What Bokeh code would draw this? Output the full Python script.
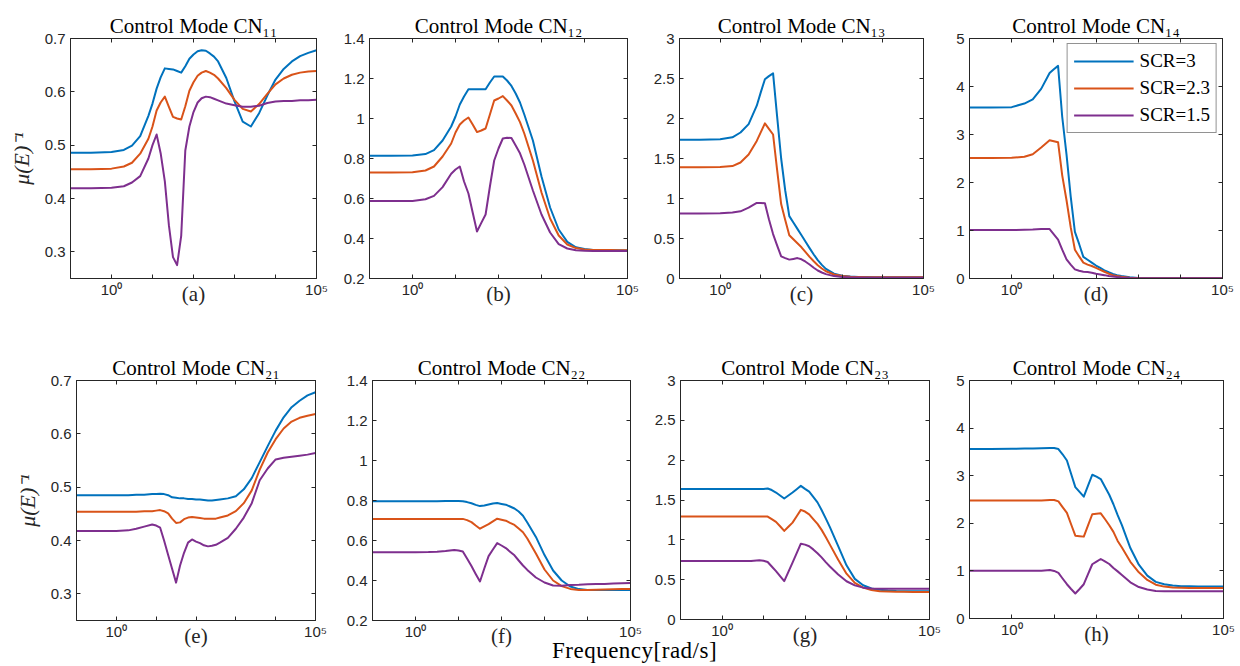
from bokeh.plotting import figure
from bokeh.models import (FixedTicker, LogAxis, LinearAxis, Legend, LegendItem, Div,
                          NumeralTickFormatter, CustomJSTickFormatter)
from bokeh.layouts import row, column
from bokeh.embed import file_html
from bokeh.resources import INLINE

# ---------------- data ----------------
freq = [0.1, 0.316, 1, 2.0, 3.16, 5.01, 7.94,
        10, 12.6, 15.8, 20.0, 25.1, 31.6, 39.8, 50.1, 63.1, 79.4, 100, 126, 158, 200, 251, 316, 398,
        631, 1000, 1585, 2512, 3981, 6310, 10000, 15850, 25120, 39810, 63100, 100000]

series_names = ["SCR=3", "SCR=2.3", "SCR=1.5"]
series_colors = ["#0072BD", "#D95319", "#7E2F8E"]

cn11_scr3 = [0.486, 0.486, 0.487, 0.491, 0.499, 0.517, 0.555,
             0.578, 0.606, 0.627, 0.644, 0.643, 0.642, 0.639, 0.636, 0.648, 0.662, 0.670, 0.676, 0.678, 0.677, 0.672, 0.666, 0.657,
             0.626, 0.582, 0.544, 0.535, 0.560, 0.593, 0.623, 0.643, 0.657, 0.667, 0.673, 0.678]
cn11_scr23 = [0.455, 0.455, 0.456, 0.460, 0.467, 0.484, 0.512,
              0.535, 0.565, 0.580, 0.591, 0.572, 0.553, 0.550, 0.548, 0.573, 0.602, 0.618, 0.630, 0.636, 0.639, 0.636, 0.632, 0.625,
              0.607, 0.585, 0.568, 0.563, 0.577, 0.596, 0.614, 0.625, 0.632, 0.636, 0.638, 0.639]
cn11_scr15 = [0.419, 0.419, 0.420, 0.423, 0.430, 0.442, 0.475,
              0.500, 0.520, 0.485, 0.432, 0.350, 0.290, 0.275, 0.330, 0.490, 0.535, 0.562, 0.580, 0.588, 0.591, 0.590, 0.587, 0.584,
              0.578, 0.575, 0.572, 0.572, 0.574, 0.579, 0.582, 0.583, 0.583, 0.584, 0.584, 0.585]

cn12_scr3 = [0.814, 0.814, 0.815, 0.822, 0.842, 0.890, 0.960,
             1.010, 1.070, 1.110, 1.146, 1.146, 1.146, 1.146, 1.146, 1.180, 1.210, 1.210, 1.210, 1.190, 1.163, 1.125, 1.080, 1.020,
             0.890, 0.710, 0.555, 0.445, 0.383, 0.356, 0.347, 0.343, 0.342, 0.341, 0.341, 0.340]
cn12_scr23 = [0.730, 0.730, 0.731, 0.740, 0.760, 0.810, 0.875,
              0.930, 0.970, 0.990, 1.005, 0.970, 0.932, 0.940, 0.950, 1.020, 1.090, 1.100, 1.112, 1.090, 1.065, 1.025, 0.982, 0.925,
              0.790, 0.630, 0.500, 0.415, 0.370, 0.352, 0.345, 0.343, 0.342, 0.342, 0.341, 0.341]
cn12_scr15 = [0.587, 0.587, 0.588, 0.596, 0.613, 0.657, 0.724,
              0.745, 0.760, 0.685, 0.625, 0.530, 0.435, 0.478, 0.520, 0.660, 0.790, 0.850, 0.900, 0.904, 0.902, 0.865, 0.826, 0.770,
              0.640, 0.520, 0.430, 0.372, 0.350, 0.341, 0.339, 0.338, 0.338, 0.337, 0.337, 0.337]

cn13_scr3 = [1.733, 1.733, 1.740, 1.765, 1.825, 1.930, 2.160,
             2.330, 2.490, 2.530, 2.565, 2.030, 1.500, 1.100, 0.780, 0.700, 0.620, 0.540, 0.460, 0.380, 0.300, 0.230, 0.170, 0.120,
             0.060, 0.035, 0.025, 0.020, 0.018, 0.017, 0.017, 0.017, 0.017, 0.017, 0.017, 0.017]
cn13_scr23 = [1.390, 1.390, 1.393, 1.405, 1.450, 1.550, 1.720,
              1.830, 1.940, 1.870, 1.800, 1.360, 0.930, 0.730, 0.540, 0.490, 0.440, 0.390, 0.330, 0.270, 0.215, 0.165, 0.125, 0.090,
              0.050, 0.030, 0.022, 0.018, 0.016, 0.015, 0.015, 0.015, 0.015, 0.015, 0.015, 0.015]
cn13_scr15 = [0.812, 0.812, 0.815, 0.825, 0.840, 0.885, 0.945,
              0.945, 0.940, 0.740, 0.555, 0.415, 0.277, 0.255, 0.236, 0.245, 0.255, 0.240, 0.210, 0.175, 0.135, 0.100, 0.075, 0.055,
              0.030, 0.018, 0.013, 0.011, 0.010, 0.010, 0.010, 0.010, 0.010, 0.010, 0.010, 0.010]

cn14_scr3 = [3.560, 3.560, 3.570, 3.645, 3.730, 3.950, 4.280,
             4.360, 4.430, 3.370, 2.580, 1.710, 0.970, 0.720, 0.450, 0.390, 0.330, 0.270, 0.220, 0.170, 0.130, 0.095, 0.070, 0.050,
             0.025, 0.012, 0.007, 0.005, 0.004, 0.004, 0.004, 0.004, 0.004, 0.004, 0.004, 0.004]
cn14_scr23 = [2.510, 2.510, 2.515, 2.535, 2.590, 2.730, 2.880,
              2.860, 2.840, 2.150, 1.630, 1.070, 0.600, 0.460, 0.330, 0.290, 0.260, 0.220, 0.180, 0.140, 0.100, 0.070, 0.050, 0.035,
              0.016, 0.008, 0.005, 0.004, 0.004, 0.004, 0.004, 0.004, 0.004, 0.004, 0.004, 0.004]
cn14_scr15 = [1.010, 1.010, 1.010, 1.015, 1.020, 1.030, 1.030,
              0.920, 0.810, 0.600, 0.400, 0.290, 0.190, 0.160, 0.140, 0.135, 0.120, 0.100, 0.085, 0.070, 0.050, 0.040, 0.030, 0.022,
              0.012, 0.006, 0.004, 0.003, 0.003, 0.003, 0.003, 0.003, 0.003, 0.003, 0.003, 0.003]

cn21_scr3 = [0.485, 0.485, 0.485, 0.485, 0.486, 0.486, 0.487,
             0.487, 0.4875, 0.487, 0.485, 0.481, 0.480, 0.479, 0.479, 0.478, 0.478, 0.477, 0.477, 0.476, 0.475, 0.475, 0.476, 0.477,
             0.479, 0.483, 0.496, 0.517, 0.547, 0.577, 0.606, 0.631, 0.650, 0.662, 0.672, 0.678]
cn21_scr23 = [0.454, 0.454, 0.454, 0.454, 0.454, 0.455, 0.455,
              0.456, 0.457, 0.455, 0.451, 0.441, 0.433, 0.434, 0.440, 0.443, 0.444, 0.443, 0.442, 0.441, 0.441, 0.441, 0.441, 0.443,
              0.447, 0.455, 0.470, 0.494, 0.533, 0.565, 0.590, 0.610, 0.623, 0.630, 0.634, 0.637]
cn21_scr15 = [0.418, 0.418, 0.418, 0.419, 0.422, 0.426, 0.430,
              0.428, 0.424, 0.400, 0.373, 0.347, 0.321, 0.353, 0.377, 0.396, 0.402, 0.398, 0.395, 0.391, 0.389, 0.390, 0.392, 0.396,
              0.405, 0.422, 0.443, 0.470, 0.513, 0.535, 0.552, 0.555, 0.557, 0.559, 0.561, 0.564]

cn22_scr3 = [0.796, 0.796, 0.796, 0.796, 0.796, 0.797, 0.797,
             0.797, 0.796, 0.792, 0.786, 0.778, 0.772, 0.775, 0.780, 0.785, 0.787, 0.783, 0.779, 0.770, 0.760, 0.745, 0.724, 0.690,
             0.618, 0.527, 0.450, 0.400, 0.370, 0.357, 0.353, 0.353, 0.353, 0.353, 0.353, 0.353]
cn22_scr23 = [0.708, 0.708, 0.708, 0.708, 0.708, 0.708, 0.708,
              0.708, 0.708, 0.702, 0.692, 0.675, 0.659, 0.671, 0.682, 0.696, 0.709, 0.704, 0.699, 0.688, 0.678, 0.660, 0.641, 0.610,
              0.535, 0.455, 0.400, 0.372, 0.358, 0.353, 0.353, 0.354, 0.355, 0.356, 0.357, 0.357]
cn22_scr15 = [0.541, 0.541, 0.541, 0.542, 0.544, 0.547, 0.553,
              0.550, 0.545, 0.510, 0.472, 0.433, 0.395, 0.460, 0.522, 0.555, 0.587, 0.575, 0.562, 0.544, 0.526, 0.500, 0.475, 0.453,
              0.415, 0.390, 0.375, 0.374, 0.378, 0.379, 0.381, 0.382, 0.383, 0.385, 0.386, 0.387]

cn23_scr3 = [1.638, 1.638, 1.638, 1.638, 1.638, 1.638, 1.638,
             1.638, 1.644, 1.625, 1.594, 1.556, 1.518, 1.556, 1.594, 1.636, 1.678, 1.640, 1.605, 1.540, 1.470, 1.375, 1.270, 1.160,
             0.920, 0.680, 0.510, 0.430, 0.390, 0.372, 0.363, 0.357, 0.356, 0.356, 0.356, 0.356]
cn23_scr23 = [1.292, 1.292, 1.292, 1.292, 1.292, 1.292, 1.292,
              1.292, 1.292, 1.260, 1.225, 1.170, 1.112, 1.165, 1.216, 1.296, 1.376, 1.355, 1.320, 1.260, 1.200, 1.125, 1.035, 0.940,
              0.750, 0.575, 0.460, 0.400, 0.370, 0.356, 0.352, 0.349, 0.347, 0.346, 0.345, 0.344]
cn23_scr15 = [0.734, 0.734, 0.734, 0.734, 0.734, 0.734, 0.745,
              0.737, 0.722, 0.665, 0.608, 0.545, 0.482, 0.598, 0.713, 0.832, 0.952, 0.940, 0.920, 0.880, 0.832, 0.780, 0.720, 0.665,
              0.565, 0.480, 0.428, 0.400, 0.389, 0.386, 0.386, 0.386, 0.386, 0.386, 0.386, 0.386]

cn24_scr3 = [3.560, 3.560, 3.565, 3.570, 3.570, 3.575, 3.580,
             3.580, 3.560, 3.450, 3.320, 3.040, 2.760, 2.660, 2.560, 2.790, 3.020, 2.980, 2.930, 2.770, 2.600, 2.400, 2.170, 1.960,
             1.480, 1.130, 0.900, 0.770, 0.720, 0.695, 0.680, 0.675, 0.670, 0.670, 0.670, 0.670]
cn24_scr23 = [2.480, 2.480, 2.480, 2.480, 2.480, 2.480, 2.490,
              2.490, 2.460, 2.340, 2.220, 1.980, 1.740, 1.730, 1.720, 1.955, 2.190, 2.200, 2.210, 2.090, 1.960, 1.820, 1.630, 1.490,
              1.190, 0.970, 0.810, 0.710, 0.670, 0.650, 0.645, 0.642, 0.640, 0.640, 0.640, 0.640]
cn24_scr15 = [1.005, 1.005, 1.005, 1.005, 1.005, 1.005, 1.017,
              1.000, 0.960, 0.840, 0.720, 0.620, 0.526, 0.620, 0.720, 0.930, 1.140, 1.195, 1.250, 1.200, 1.145, 1.060, 0.990, 0.915,
              0.760, 0.660, 0.610, 0.580, 0.575, 0.572, 0.570, 0.570, 0.570, 0.570, 0.570, 0.570]

titles = ["Control Mode CN\u2081\u2081", "Control Mode CN\u2081\u2082",
          "Control Mode CN\u2081\u2083", "Control Mode CN\u2081\u2084",
          "Control Mode CN\u2082\u2081", "Control Mode CN\u2082\u2082",
          "Control Mode CN\u2082\u2083", "Control Mode CN\u2082\u2084"]
tags = ["(a)", "(b)", "(c)", "(d)", "(e)", "(f)", "(g)", "(h)"]

y_lim_a = (0.25, 0.7); y_ticks_a = [0.3, 0.4, 0.5, 0.6, 0.7]
y_lim_b = (0.2, 1.4);  y_ticks_b = [0.2, 0.4, 0.6, 0.8, 1.0, 1.2, 1.4]
y_lim_c = (0, 3);      y_ticks_c = [0, 0.5, 1, 1.5, 2, 2.5, 3]
y_lim_d = (0, 5);      y_ticks_d = [0, 1, 2, 3, 4, 5]

x_major = [1, 100000]
x_minor = [10, 100, 1000, 10000]
x_tick_text = {1: "10\u2070", 100000: "10\u2075"}
y_label = "\u03bc(E)\u207b\u00b9"
x_label = "Frequency[rad/s]"

# ---------------- styling ----------------
AX = "#262626"
SERIF = "Liberation Serif"
SANS = "Liberation Sans"


def style_axis(ax, show):
    ax.axis_line_color = AX
    ax.major_tick_line_color = AX
    ax.minor_tick_line_color = AX
    ax.major_tick_in = 4
    ax.major_tick_out = 0
    ax.minor_tick_in = 4
    ax.minor_tick_out = 0
    ax.major_label_text_font = SANS
    ax.major_label_text_color = AX
    if show:
        ax.major_label_text_font_size = "15px"
    else:
        ax.formatter = CustomJSTickFormatter(code="return ''")
        ax.major_label_text_font_size = "1px"
        ax.major_label_text_alpha = 0
        ax.major_label_standoff = 0


def make_panel(title, tag, series, ylim, yticks, fw, fh, bl, br, bt, bb,
               ylabel=False, legend=False):
    p = figure(x_axis_type="log", x_range=(0.1, 100000), y_range=ylim,
               frame_width=fw, frame_height=fh,
               min_border_left=bl, min_border_right=br,
               min_border_top=bt, min_border_bottom=bb,
               output_backend="svg", toolbar_location=None,
               background_fill_color="white", border_fill_color="white")
    p.title.text = title
    p.title.align = "center"
    p.title.text_font = SERIF
    p.title.text_font_size = "21px"
    p.title.text_font_style = "normal"
    p.title.text_color = "#000000"
    p.title.standoff = 2

    p.xgrid.visible = False
    p.ygrid.visible = False
    p.outline_line_color = AX
    p.outline_line_width = 1

    xa = p.xaxis[0]
    xa.ticker = FixedTicker(ticks=x_major, minor_ticks=x_minor)
    xa.major_label_overrides = x_tick_text
    style_axis(xa, True)
    xa.major_label_standoff = 2
    xa.axis_label = tag
    xa.axis_label_text_font = SERIF
    xa.axis_label_text_font_style = "normal"
    xa.axis_label_text_font_size = "21px"
    xa.axis_label_text_color = AX
    xa.axis_label_standoff = -19

    ya = p.yaxis[0]
    ya.ticker = FixedTicker(ticks=yticks)
    ya.formatter = NumeralTickFormatter(format="0.[0]")
    style_axis(ya, True)
    ya.major_label_standoff = 5
    if ylabel:
        ya.axis_label = y_label
        ya.axis_label_text_font = SERIF
        ya.axis_label_text_font_style = "italic"
        ya.axis_label_text_font_size = "22px"
        ya.axis_label_text_color = AX
        ya.axis_label_standoff = 8

    top = LogAxis(ticker=FixedTicker(ticks=x_major, minor_ticks=x_minor))
    style_axis(top, False)
    p.add_layout(top, "above")
    right = LinearAxis(ticker=FixedTicker(ticks=yticks))
    style_axis(right, False)
    p.add_layout(right, "right")

    rs = []
    for vals, c in zip(series, series_colors):
        rs.append(p.line(freq, vals, line_color=c, line_width=2, line_join="round"))

    if legend:
        leg = Legend(items=[LegendItem(label=n, renderers=[r]) for n, r in zip(series_names, rs)],
                     location="top_right")
        leg.label_text_font = SERIF
        leg.label_text_font_size = "19px"
        leg.label_text_color = "#000000"
        leg.border_line_color = AX
        leg.border_line_width = 1
        leg.background_fill_color = "white"
        leg.background_fill_alpha = 1.0
        leg.glyph_width = 60
        leg.glyph_height = 20
        leg.label_height = 20
        leg.label_standoff = 6
        leg.spacing = 5
        leg.padding = 6
        leg.margin = 5
        p.add_layout(leg)
    return p


# row 1 (326 px tall; the title needs ~38 px above each frame)
pa = make_panel(titles[0], tags[0], [cn11_scr3, cn11_scr23, cn11_scr15], y_lim_a, y_ticks_a,
                246, 240, 70, 22, 38, 48, ylabel=True)
pb = make_panel(titles[1], tags[1], [cn12_scr3, cn12_scr23, cn12_scr15], y_lim_b, y_ticks_b,
                258, 240, 31, 21, 38, 48)
pc = make_panel(titles[2], tags[2], [cn13_scr3, cn13_scr23, cn13_scr15], y_lim_c, y_ticks_c,
                244, 240, 31, 22, 38, 48)
pd = make_panel(titles[3], tags[3], [cn14_scr3, cn14_scr23, cn14_scr15], y_lim_d, y_ticks_d,
                253, 240, 24, 16, 38, 48, legend=True)

# row 2 (322 px tall)
pe = make_panel(titles[4], tags[4], [cn21_scr3, cn21_scr23, cn21_scr15], y_lim_a, y_ticks_a,
                239, 240, 76, 21, 47, 35, ylabel=True)
pf = make_panel(titles[5], tags[5], [cn22_scr3, cn22_scr23, cn22_scr15], y_lim_b, y_ticks_b,
                258, 240, 36, 20, 48, 34)
pg = make_panel(titles[6], tags[6], [cn23_scr3, cn23_scr23, cn23_scr15], y_lim_c, y_ticks_c,
                249, 239, 30, 17, 52, 31)
ph = make_panel(titles[7], tags[7], [cn24_scr3, cn24_scr23, cn24_scr15], y_lim_d, y_ticks_d,
                254, 238, 23, 15, 54, 30)

xlabel_div = Div(
    text='<div style="font-family:\'Liberation Serif\';font-size:23px;line-height:1;'
         'letter-spacing:0.5px;color:#000000;white-space:nowrap;">' + x_label + '</div>',
    width=220, height=24, margin=(-9, 0, 0, 552))

layout = column(row(pa, pb, pc, pd), row(pe, pf, pg, ph), xlabel_div)

with open("out.html", "w") as f:
    f.write(file_html(layout, INLINE))
